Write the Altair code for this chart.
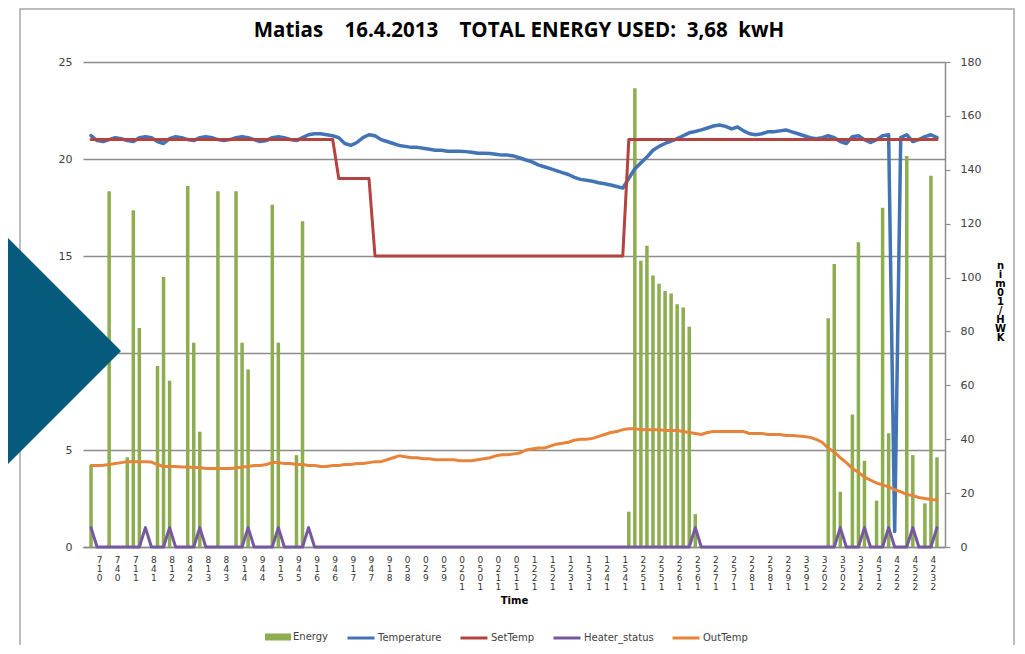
import altair as alt
import pandas as pd

# ---------------- data ----------------
TIME_LABELS = ["0:17", "0:47", "1:17", "1:48", "2:18", "2:48", "3:18", "3:48", "4:19", "4:49",
               "5:19", "5:49", "6:19", "6:49", "7:19", "7:49", "8:19", "8:50", "9:20", "9:50",
               "10:20", "10:50", "11:20", "11:50", "12:21", "12:51", "13:21", "13:51", "14:21", "14:51",
               "15:22", "15:52", "16:22", "16:52", "17:22", "17:52", "18:22", "18:52", "19:22", "19:53",
               "20:23", "20:53", "21:23", "21:54", "22:24", "22:54", "23:24"]
LABEL_IDX = [1 + 3 * k for k in range(len(TIME_LABELS))]

ENERGY = [30.4, 0, 0, 132, 0, 0, 33.3, 125, 81.3, 0,
          0, 67.2, 100.2, 61.7, 0, 0, 134, 75.8, 42.8, 0,
          0, 132, 0, 0, 132, 75.8, 65.9, 0, 0, 0,
          127, 75.8, 0, 0, 34.1, 120.9, 0, 0, 0, 0,
          0, 0, 0, 0, 0, 0, 0, 0, 0, 0,
          0, 0, 0, 0, 0, 0, 0, 0, 0, 0,
          0, 0, 0, 0, 0, 0, 0, 0, 0, 0,
          0, 0, 0, 0, 0, 0, 0, 0, 0, 0,
          0, 0, 0, 0, 0, 0, 0, 0, 0, 13.1,
          170.3, 106.2, 111.8, 100.8, 97.7, 95.0, 94.1, 90.1, 88.9, 81.8,
          12.2, 0, 0, 0, 0, 0, 0, 0, 0, 0,
          0, 0, 0, 0, 0, 0, 0, 0, 0, 0,
          0, 0, 84.9, 105.0, 20.5, 0, 49.2, 113.1, 32.0, 0,
          17.2, 125.9, 42.2, 0, 0, 145.1, 34.1, 0, 16.2, 137.8,
          33.3]

TEMPERATURE = [21.2, 20.95, 20.9, 21.0, 21.1, 21.05, 20.95, 20.9, 21.1, 21.15,
               21.1, 20.9, 20.8, 21.05, 21.15, 21.1, 21.0, 20.95, 21.1, 21.15,
               21.1, 21.0, 20.95, 21.0, 21.1, 21.15, 21.1, 21.0, 20.9, 20.95,
               21.1, 21.15, 21.1, 21.0, 20.95, 21.1, 21.25, 21.3, 21.3, 21.25,
               21.2, 21.1, 20.8, 20.7, 20.85, 21.1, 21.25, 21.2, 21.0, 20.9,
               20.8, 20.7, 20.65, 20.6, 20.6, 20.55, 20.5, 20.45, 20.45, 20.4,
               20.4, 20.4, 20.38, 20.35, 20.3, 20.3, 20.28, 20.25, 20.2, 20.2,
               20.15, 20.05, 19.95, 19.85, 19.7, 19.6, 19.5, 19.4, 19.3, 19.2,
               19.05, 18.95, 18.9, 18.85, 18.78, 18.72, 18.66, 18.58, 18.5, 19.0,
               19.5, 19.8, 20.1, 20.45, 20.65, 20.8, 20.92, 21.05, 21.2, 21.35,
               21.42, 21.5, 21.6, 21.7, 21.75, 21.68, 21.55, 21.65, 21.45, 21.3,
               21.25, 21.3, 21.4, 21.4, 21.45, 21.5, 21.4, 21.3, 21.2, 21.1,
               21.05, 21.1, 21.2, 21.1, 20.9, 20.8, 21.15, 21.2, 21.0, 20.85,
               21.0, 21.2, 21.25, 0.8, 21.1, 21.25, 20.9, 21.0, 21.15, 21.25,
               21.1]

SETTEMP = [21] * 41 + [19] * 6 + [15] * 42 + [21] * 52

HEATER_ON = [0, 9, 13, 18, 26, 31, 36, 100, 124, 128, 132, 136, 140]
HEATER_STATUS = [1 if i in HEATER_ON else 0 for i in range(141)]

OUTTEMP = [4.2, 4.2, 4.22, 4.25, 4.3, 4.35, 4.4, 4.4, 4.4, 4.4,
           4.38, 4.25, 4.15, 4.15, 4.15, 4.12, 4.12, 4.1, 4.1, 4.05,
           4.05, 4.05, 4.05, 4.05, 4.07, 4.12, 4.15, 4.2, 4.2, 4.25,
           4.35, 4.35, 4.3, 4.3, 4.25, 4.25, 4.2, 4.2, 4.15, 4.15,
           4.2, 4.2, 4.25, 4.25, 4.3, 4.3, 4.35, 4.4, 4.4, 4.5,
           4.6, 4.7, 4.65, 4.6, 4.6, 4.55, 4.55, 4.5, 4.5, 4.5,
           4.5, 4.45, 4.45, 4.45, 4.5, 4.55, 4.6, 4.7, 4.75, 4.75,
           4.8, 4.85, 5.0, 5.05, 5.1, 5.1, 5.2, 5.3, 5.35, 5.4,
           5.5, 5.55, 5.55, 5.6, 5.7, 5.8, 5.9, 5.95, 6.05, 6.1,
           6.1, 6.05, 6.05, 6.05, 6.05, 6.0, 6.0, 6.0, 5.95, 5.9,
           5.85, 5.8, 5.9, 5.95, 5.95, 5.95, 5.95, 5.95, 5.95, 5.85,
           5.85, 5.85, 5.8, 5.8, 5.8, 5.75, 5.75, 5.72, 5.7, 5.65,
           5.55, 5.4, 5.1, 4.9, 4.6, 4.35, 4.05, 3.85, 3.6, 3.45,
           3.3, 3.2, 3.1, 2.95, 2.85, 2.7, 2.65, 2.55, 2.5, 2.45,
           2.42]

SERIES = ["Temperature", "SetTemp", "Heater_status", "OutTemp"]
SERIES_COLORS = ["#4273b4", "#b4433f", "#7658a0", "#e8833a"]
SERIES_WIDTHS = [3.5, 3, 3, 3]
ENERGY_COLOR = "#8cad50"

TITLE = "Matias\u00a0\u00a0\u00a0 16.4.2013\u00a0\u00a0\u00a0 TOTAL ENERGY USED:\u00a0 3,68\u00a0 kwH"
RIGHT_TITLE = "KWH/10min"

N = len(ENERGY)
df = pd.DataFrame({
    "i": list(range(N)),
    "Energy": ENERGY,
    "Temperature": TEMPERATURE,
    "SetTemp": SETTEMP,
    "Heater_status": HEATER_STATUS,
    "OutTemp": OUTTEMP,
})
long = df.melt(id_vars="i", value_vars=SERIES, var_name="series", value_name="value")

FONT = "DejaVu Sans"
GRID = "#8c8c8c"

lbl_array = "[" + ",".join("'%s'" % t for t in TIME_LABELS) + "]"
label_expr = "reverse(split(replace(%s[round((datum.value - 1) / 3)], ':', ''), ''))" % lbl_array


def xenc():
    return alt.X(
        "i:Q",
        scale=alt.Scale(domain=[-0.5, N - 0.5], nice=False, zero=False),
        axis=alt.Axis(
            values=LABEL_IDX, labelExpr=label_expr, grid=False, ticks=False,
            domain=True, domainColor=GRID, domainWidth=1.5,
            labelFont=FONT, labelFontSize=9, labelLineHeight=9, labelColor="#333333",
            labelBaseline="top", labelAlign="center", labelPadding=8, labelOffset=2,
            labelFlush=False, labelOverlap=False, labelBound=False,
            title="Time", titleFont=FONT, titleFontSize=10, titleFontWeight="bold",
            titleColor="#000000", titlePadding=4,
        ),
    )


bars = alt.Chart(df).transform_calculate(s="'Energy'").mark_bar(size=3.5).encode(
    x=xenc(),
    y=alt.Y("Energy:Q", scale=alt.Scale(domain=[0, 180], nice=False),
            axis=alt.Axis(orient="right", values=list(range(0, 181, 20)), grid=False,
                          domain=True, domainColor=GRID, domainWidth=1.5,
                          ticks=True, tickColor=GRID, tickSize=5, tickWidth=1.2,
                          labelFont=FONT, labelFontSize=11, labelColor="#404040", labelPadding=10,
                          title=list(reversed(RIGHT_TITLE)), titleAngle=0, titleFont=FONT,
                          titleFontSize=10, titleFontWeight="bold", titleColor="#000000",
                          titleLineHeight=9, titleX=55, titleY=198, titleAlign="center",
                          titleBaseline="top")),
    fill=alt.Fill("s:N", scale=alt.Scale(domain=["Energy"], range=[ENERGY_COLOR]),
                  legend=alt.Legend(orient="none", legendX=182, legendY=562, direction="horizontal",
                                    title=None, symbolType="M-1,-0.27H1V0.27H-1Z", symbolSize=676,
                                    symbolStrokeWidth=0, labelFont=FONT, labelFontSize=10,
                                    labelColor="#404040", labelOffset=2, padding=0)),
)

yline = alt.Y("value:Q", scale=alt.Scale(domain=[0, 25], nice=False),
              axis=alt.Axis(orient="left", values=[0, 5, 10, 15, 20, 25], grid=True,
                            gridColor=GRID, gridWidth=1.3, domain=False, ticks=False,
                            labelFont=FONT, labelFontSize=11, labelColor="#404040",
                            labelPadding=11, title=None))

stroke = alt.Stroke("series:N", scale=alt.Scale(domain=SERIES, range=SERIES_COLORS),
                    legend=alt.Legend(orient="none", legendX=263, legendY=561, direction="horizontal",
                                      title=None, symbolType="stroke", symbolSize=729,
                                      symbolStrokeWidth=3, labelFont=FONT, labelFontSize=10,
                                      labelColor="#404040", labelOffset=2, columnPadding=12,
                                      padding=0))

line_layers = []
for s, w in zip(SERIES, SERIES_WIDTHS):
    line_layers.append(
        alt.Chart(long).transform_filter(alt.datum.series == s)
        .mark_line(strokeWidth=w, strokeJoin="round", strokeCap="round")
        .encode(x=xenc(), y=yline, stroke=stroke, order="i:Q")
    )
lines = alt.layer(*line_layers)

# decorative slide elements (not data): frame and triangle
deco = alt.Data(values=[{"k": 1}])
frame = alt.Chart(deco).mark_rect(fillOpacity=0, stroke="#a6a6a6", strokeWidth=1.5).encode(
    x=alt.value(-63), x2=alt.value(931), y=alt.value(-53), y2=alt.value(620)
)
triangle = alt.Chart(deco).mark_point(shape="M-1,-2L1,0L-1,2Z", size=14641, filled=True,
                                      opacity=1, color="#065a7c").encode(
    x=alt.value(-22.5), y=alt.value(289)
)

chart = alt.layer(frame, alt.layer(bars, lines).resolve_scale(y="independent"), triangle).properties(
    width=862, height=485,
    padding={"left": 75, "top": 54, "right": 70, "bottom": 98},
    autosize=alt.AutoSizeParams(type="none"),
    title=alt.Title(TITLE, font="Open Sans", fontSize=20.5, fontWeight="bold", color="#000000",
                    anchor="middle", offset=-33, dx=5),
).configure_view(stroke=None)

chart.save("out.html", embed_options={"renderer": "svg", "actions": False})
